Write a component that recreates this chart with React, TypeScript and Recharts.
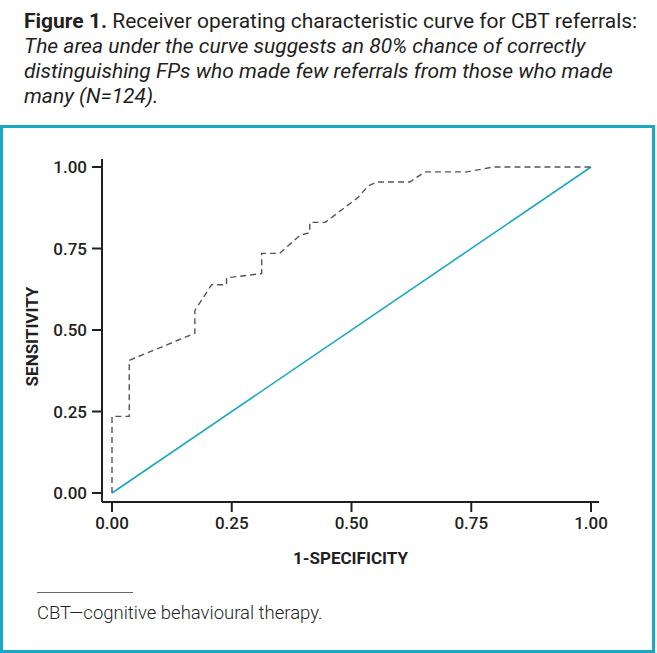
import { LineChart, Line, XAxis, YAxis } from "recharts"

// ROC curve: false positive rate vs sensitivity
const fpr = [0, 0, 0.036, 0.036, 0.173, 0.173, 0.208, 0.239, 0.239, 0.3125, 0.3125, 0.35, 0.392, 0.413, 0.413, 0.445, 0.514, 0.534, 0.553, 0.622, 0.653, 0.741, 0.796, 1.0]
const sensitivity = [0, 0.235, 0.235, 0.407, 0.49, 0.56, 0.639, 0.639, 0.66, 0.673, 0.735, 0.735, 0.79, 0.799, 0.83, 0.83, 0.907, 0.941, 0.954, 0.954, 0.985, 0.985, 1.0, 1.0]

// chance line
const refX = [0, 1]
const refY = [0, 1]

const ticks = [0, 0.25, 0.5, 0.75, 1]

const TEAL = "#1aa7c2"
const INK = "#231f20"
const FONT = "Roboto, 'Noto Sans', sans-serif"

const rocData = fpr.map((x, i) => ({ x, y: sensitivity[i] }))
const refData = refX.map((x, i) => ({ x, y: refY[i] }))

const fmt = (v: number) => v.toFixed(2)

export default function App() {
  const tickStyle = { fill: INK, fontSize: 17, fontWeight: 500, fontFamily: FONT }

  return (
    <div style={{ position: "absolute", left: 0, top: 0, width: 657, height: 653, background: "#fff", fontFamily: FONT, color: INK }}>
      <div style={{ position: "absolute", left: 24, top: 9, lineHeight: "25px", whiteSpace: "nowrap" }}>
        <div style={{ fontSize: 21 }}>
          <b>Figure 1.</b> Receiver operating characteristic curve for CBT referrals:
        </div>
        <div style={{ fontSize: 21, fontStyle: "italic" }}>The area under the curve suggests an 80% chance of correctly</div>
        <div style={{ fontSize: 21, fontStyle: "italic" }}>distinguishing FPs who made few referrals from those who made</div>
        <div style={{ fontSize: 21, fontStyle: "italic" }}>many (N=124).</div>
      </div>

      <div style={{ position: "absolute", left: 0, top: 125, width: 649, height: 522, border: `3px solid ${TEAL}` }} />

      <div style={{ position: "absolute", left: 0, top: 0 }}>
        <LineChart width={657} height={653} margin={{ top: 159, right: 58, bottom: 91, left: 32 }}>
          <XAxis
            type="number"
            dataKey="x"
            domain={[0, 1]}
            ticks={ticks}
            tickFormatter={fmt}
            padding={{ left: 10, right: 8 }}
            height={60}
            tickSize={10}
            tickMargin={5}
            axisLine={{ stroke: INK, strokeWidth: 2 }}
            tickLine={{ stroke: INK, strokeWidth: 2 }}
            tick={tickStyle}
            label={{ value: "1-SPECIFICITY", position: "insideBottom", offset: -2, fill: INK, fontSize: 17, fontWeight: 700, fontFamily: FONT }}
          />
          <YAxis
            type="number"
            dataKey="y"
            domain={[0, 1]}
            ticks={ticks}
            tickFormatter={fmt}
            padding={{ top: 8, bottom: 9 }}
            width={70}
            tickSize={10}
            tickMargin={5}
            axisLine={{ stroke: INK, strokeWidth: 2 }}
            tickLine={{ stroke: INK, strokeWidth: 2 }}
            tick={tickStyle}
            label={{ value: "SENSITIVITY", angle: -90, position: "insideLeft", offset: 0, dy: 6, textAnchor: "middle", fill: INK, fontSize: 17, fontWeight: 700, fontFamily: FONT }}
          />
          <Line
            data={refData}
            dataKey="y"
            type="linear"
            stroke={TEAL}
            strokeWidth={1.6}
            dot={false}
            isAnimationActive={false}
          />
          <Line
            data={rocData}
            dataKey="y"
            type="linear"
            stroke="#555"
            strokeWidth={1.4}
            strokeDasharray="6 4"
            dot={false}
            isAnimationActive={false}
          />
        </LineChart>
      </div>

      <div style={{ position: "absolute", left: 37, top: 592, width: 96, borderTop: "1px solid #666" }} />
      <div style={{ position: "absolute", left: 37, top: 602, fontSize: 18.5, fontWeight: 300, whiteSpace: "nowrap" }}>
        CBT—cognitive behavioural therapy.
      </div>
    </div>
  )
}
